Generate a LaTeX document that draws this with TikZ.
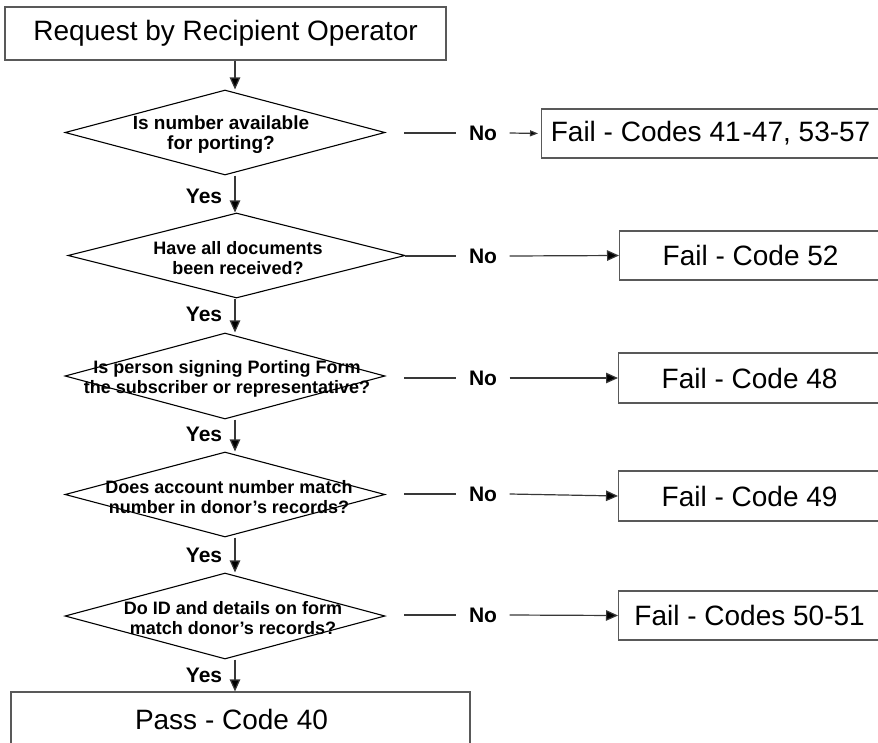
\documentclass[tikz,border=0pt]{standalone}
\usepackage{fontspec}
\setmainfont{Liberation Sans}
\usetikzlibrary{shapes.geometric,arrows.meta}
\begin{document}
\begin{tikzpicture}[x=1pt,y=-1pt,
  conn/.style={draw=black!78, line width=1.2pt},
  arr/.style={conn, -{Triangle[length=12pt,width=10.5pt,fill=black]}},
  smallarr/.style={conn, -{Triangle[length=8pt,width=6pt,fill=black]}},
  procbox/.style={draw=black!65, line width=1.2pt, rectangle, inner sep=0pt,
    font=\fontsize{28}{32}\selectfont},
  decision/.style={draw=black, line width=1.1pt, diamond, inner sep=0pt},
  qtext/.style={font=\bfseries\fontsize{18}{20}\selectfont, align=center, inner sep=0pt},
  lbl/.style={font=\bfseries\fontsize{21}{24}\selectfont, inner ysep=0pt, inner xsep=12.5pt}]
\useasboundingbox (0,0) rectangle (878,742);
\clip (0,0) rectangle (878,742);

% start box
\node[procbox, minimum width=441pt, minimum height=53pt] (top) at (225.5,33.5) {Request by Recipient Operator};

% decisions
\node[decision, minimum width=320pt, minimum height=85pt] (d1) at (225,132.5) {};
\node[decision, minimum width=337pt, minimum height=85pt] (d2) at (236.5,255.5) {};
\node[decision, minimum width=320pt, minimum height=86pt] (d3) at (225,376) {};
\node[decision, minimum width=320pt, minimum height=85pt] (d4) at (225,494.5) {};
\node[decision, minimum width=320pt, minimum height=86pt] (d5) at (225,616) {};

\node[qtext, font=\bfseries\fontsize{19}{20}\selectfont] (q1) at (221,135) {Is number available\\for porting?};
\node[qtext] (q2) at (238,258) {Have all documents\\been received?};
\node[qtext] (q3) at (227,379) {Is person signing Porting Form\\the subscriber or representative?};
\node[qtext] (q4) at (229,497) {Does account number match\\number in donor’s records?};
\node[qtext] (q5) at (233,618) {Do ID and details on form\\match donor’s records?};

% fail boxes
\node[procbox, anchor=west, minimum width=338pt, minimum height=49pt] (f1) at (541,133.5) {Fail - Codes 41\kern2pt-47, 53-57};
\node[procbox, anchor=west, minimum width=262pt, minimum height=49pt] (f2) at (619,255.5) {Fail - Code 52};
\node[procbox, anchor=west, minimum width=262pt, minimum height=50pt] (f3) at (618,378) {Fail - Code 48};
\node[procbox, anchor=west, minimum width=262pt, minimum height=50pt] (f4) at (618,496) {Fail - Code 49};
\node[procbox, anchor=west, minimum width=262pt, minimum height=49pt] (f5) at (618,615.5) {Fail - Codes 50-51};

% pass box
\node[procbox, minimum width=459pt, minimum height=54pt] (pass) at (240.5,719) {\hspace*{-18pt}Pass - Code 40};

% No labels
\node[lbl] (n1) at (483,133) {No};
\node[lbl] (n2) at (483,256) {No};
\node[lbl] (n3) at (483,378) {No};
\node[lbl] (n4) at (483,494) {No};
\node[lbl] (n5) at (483,615) {No};

\coordinate (c1) at (404,133);
\coordinate (c2) at (405,256);
\coordinate (c3) at (404,378);
\coordinate (c4) at (404,494);
\coordinate (c5) at (404,615);

% Yes labels
\node[lbl, inner xsep=0pt] (y1) at (204,196) {Yes};
\node[lbl, inner xsep=0pt] (y2) at (204,314) {Yes};
\node[lbl, inner xsep=0pt] (y3) at (204,434) {Yes};
\node[lbl, inner xsep=0pt] (y4) at (204,555) {Yes};
\node[lbl, inner xsep=0pt] (y5) at (204,675) {Yes};

% vertical connectors
\draw[arr] ([xshift=9.5pt]top.south) -- ([xshift=10pt]d1.north);
\draw[arr] ([xshift=10pt]d1.south) -- ([xshift=-1.5pt]d2.north);
\draw[arr] ([xshift=-1.5pt]d2.south) -- ([xshift=10pt]d3.north);
\draw[arr] ([xshift=10pt]d3.south) -- ([xshift=10pt]d4.north);
\draw[arr] ([xshift=10pt]d4.south) -- ([xshift=10pt]d5.north);
\draw[arr] ([xshift=10pt]d5.south) -- ([xshift=-5.5pt]pass.north);

% horizontal connectors
\draw[conn] (c1) -- (n1.west);
\draw[smallarr, shorten >=3pt] (n1.east) -- (f1.west);
\draw[conn] (c2) -- (n2.west);
\draw[arr] (n2.east) -- (f2.west);
\draw[conn] (c3) -- (n3.west);
\draw[arr] (n3.east) -- (f3.west);
\draw[conn] (c4) -- (n4.west);
\draw[arr] (n4.east) -- (f4.west);
\draw[conn] (c5) -- (n5.west);
\draw[arr] (n5.east) -- (f5.west);
\end{tikzpicture}
\end{document}
